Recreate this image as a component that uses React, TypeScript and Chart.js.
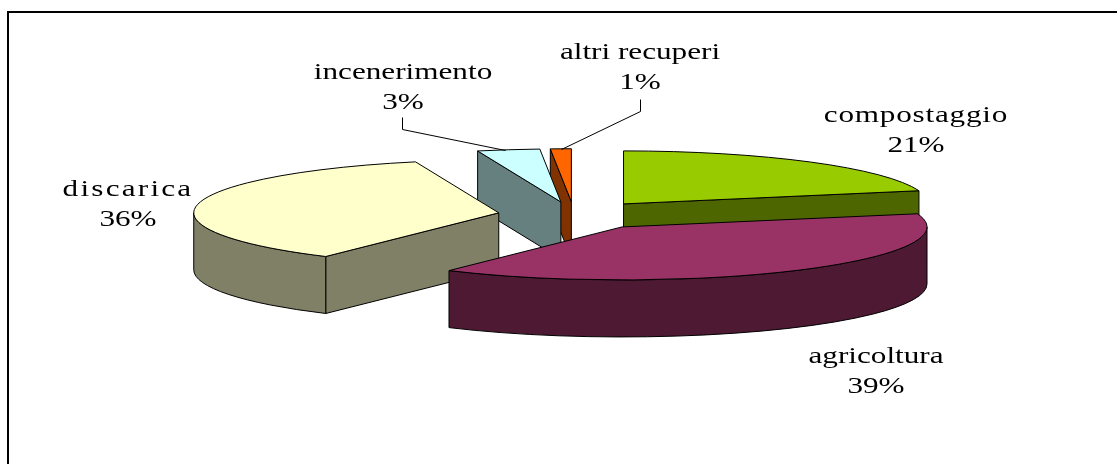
import React, { useEffect, useRef } from "react";
import { Chart, registerables } from "chart.js";

Chart.register(...registerables);

// Data
const categories = ["compostaggio", "agricoltura", "discarica", "incenerimento", "altri recuperi"];
const values = [21, 38.6, 36, 3.3, 1.1];
const topColors = ["#99CC00", "#993366", "#FFFFCC", "#CCFFFF", "#FF6600"];
const sideColors = ["#4D6600", "#4D1933", "#808066", "#668080", "#803300"];
const explode = [53, 55, 50, 50, 50];

// Layout of the flattened, extruded pie
const RADIUS = 200;
const CENTER_X = 574;
const CENTER_Y = 215;
const SCALE_X = 1.525;
const SCALE_Y = 0.265;
const DEPTH = 57;
const PAINT_ORDER = [0, 4, 3, 2, 1];
const FONT_PX = 24;
const TEXT_STRETCH = 1.3;
const labelSpacing = [0.6, 0, 1.7, 0, 0];
const labelAnchors = [
  { x: 916, y: 122 },
  { x: 876, y: 363 },
  { x: 128, y: 196 },
  { x: 403, y: 79 },
  { x: 640, y: 59 },
];
const leaders: (number[][] | null)[] = [
  null,
  null,
  null,
  [[402, 117], [402, 129], [505, 150]],
  [[640, 99], [640, 111], [561, 149]],
];

const pie3d = {
  id: "pie3d",
  beforeDatasetDraw(chart: any) {
    const ctx: CanvasRenderingContext2D = chart.ctx;
    const arcs = chart.getDatasetMeta(0).data;
    ctx.save();
    ctx.lineWidth = 1;
    ctx.strokeStyle = "#000";
    ctx.lineJoin = "round";

    const a = RADIUS * SCALE_X;
    const b = RADIUS * SCALE_Y;

    for (const i of PAINT_ORDER) {
      const arc = arcs[i];
      const s: number = arc.startAngle;
      const e: number = arc.endAngle;
      const mid = (s + e) / 2;
      const off: number = arc.options.offset;
      const apexX = CENTER_X + off * Math.cos(mid) * SCALE_X;
      const apexY = CENTER_Y + off * Math.sin(mid) * SCALE_Y;
      const rim = (t: number) => [apexX + a * Math.cos(t), apexY + b * Math.sin(t)];
      const [mx, my] = rim(mid);

      // cut faces that look towards the viewer
      for (const t of [s, e]) {
        const [qx, qy] = rim(t);
        const dx = qx - apexX;
        if (Math.abs(dx) < 1) continue;
        const lineY = apexY + ((mx - apexX) * (qy - apexY)) / dx;
        if (my < lineY) {
          ctx.beginPath();
          ctx.moveTo(apexX, apexY);
          ctx.lineTo(qx, qy);
          ctx.lineTo(qx, qy + DEPTH);
          ctx.lineTo(apexX, apexY + DEPTH);
          ctx.closePath();
          ctx.fillStyle = sideColors[i];
          ctx.fill();
          ctx.stroke();
        }
      }

      // outer wall: the part of the rim on the near half of the ellipse
      const ws = Math.max(s, 0);
      const we = Math.min(e, Math.PI);
      if (we > ws) {
        ctx.beginPath();
        ctx.ellipse(apexX, apexY, a, b, 0, ws, we);
        ctx.ellipse(apexX, apexY + DEPTH, a, b, 0, we, ws, true);
        ctx.closePath();
        ctx.fillStyle = sideColors[i];
        ctx.fill();
        ctx.stroke();
      }

      // top surface
      ctx.beginPath();
      ctx.moveTo(apexX, apexY);
      ctx.ellipse(apexX, apexY, a, b, 0, s, e);
      ctx.closePath();
      ctx.fillStyle = topColors[i];
      ctx.fill();
      ctx.stroke();
    }
    ctx.restore();
    return false;
  },
  afterDraw(chart: any) {
    const ctx: CanvasRenderingContext2D = chart.ctx;
    const total = values.reduce((p, v) => p + v, 0);
    ctx.save();

    // leader lines
    ctx.strokeStyle = "#000";
    ctx.lineWidth = 1;
    leaders.forEach((pts) => {
      if (!pts) return;
      ctx.beginPath();
      pts.forEach(([x, y], k) => (k ? ctx.lineTo(x + 0.5, y + 0.5) : ctx.moveTo(x + 0.5, y + 0.5)));
      ctx.stroke();
    });

    // labels
    ctx.fillStyle = "#000";
    ctx.font = `${FONT_PX}px "Liberation Serif"`;
    ctx.textAlign = "center";
    ctx.textBaseline = "alphabetic";
    categories.forEach((name, i) => {
      const { x, y } = labelAnchors[i];
      ctx.save();
      ctx.translate(x, y);
      ctx.scale(TEXT_STRETCH, 1);
      (ctx as any).letterSpacing = `${labelSpacing[i]}px`;
      ctx.fillText(name, 0, 0);
      (ctx as any).letterSpacing = "0px";
      ctx.fillText(`${Math.round((values[i] / total) * 100)}%`, 0, 30);
      ctx.restore();
    });
    ctx.restore();
  },
};

export default function App() {
  const ref = useRef<HTMLCanvasElement>(null);
  useEffect(() => {
    document.body.style.margin = "0";
    const chart = new Chart(ref.current!, {
      type: "pie",
      data: {
        labels: categories,
        datasets: [
          {
            data: values,
            backgroundColor: topColors,
            offset: explode,
            borderWidth: 0,
          },
        ],
      },
      options: {
        animation: false,
        responsive: false,
        radius: RADIUS,
        plugins: { legend: { display: false }, tooltip: { enabled: false } },
      } as any,
      plugins: [pie3d],
    });
    return () => chart.destroy();
  }, []);
  return (
    <div style={{ position: "relative", width: 1117, height: 464, overflow: "hidden", background: "#fff" }}>
      <div
        style={{
          position: "absolute",
          left: 7,
          top: 11,
          right: -10,
          bottom: -10,
          borderLeft: "2px solid #000",
          borderTop: "2px solid #000",
          boxSizing: "border-box",
        }}
      />
      <canvas ref={ref} width={1117} height={464} style={{ position: "absolute", left: 0, top: 0, display: "block" }} />
    </div>
  );
}
